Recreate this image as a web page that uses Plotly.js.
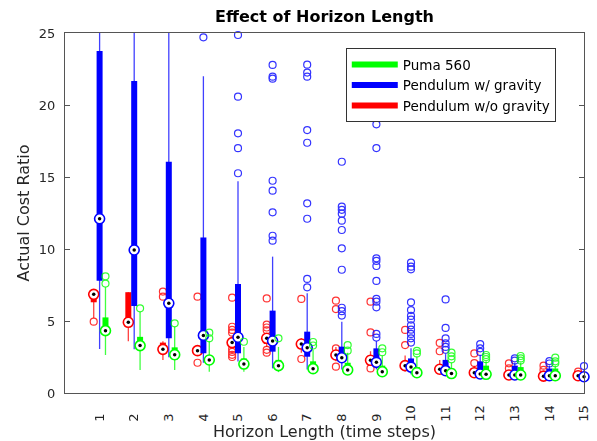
<!DOCTYPE html>
<html>
<head>
<meta charset="utf-8">
<script src="https://cdn.plot.ly/plotly-3.0.1.min.js"></script>
<style>html,body{margin:0;padding:0;background:#fff;}#chart{width:597px;height:441px;}</style>
</head>
<body>
<div id="chart"></div>
<script>
// Horizon lengths (x categories) and tick labels
const horizons = [1,2,3,4,5,6,7,8,9,10,11,12,13,14,15];
const tickLabels = ["1","2","3","4","5","6","7","8","9","10","11","12","13","14","15"];

// ---- Pendulum w/o gravity (red) ----
const redQ1  = [6.3, 4.6, 2.85, 2.8, 3.3, 3.4, 3.1, 2.45, 2.05, 1.7, 1.5, 1.3, 1.15, 1.1, 1.1];
const redMed = [6.85, 4.91, 3.03, 2.94, 3.5, 3.8, 3.4, 2.64, 2.27, 1.9, 1.65, 1.41, 1.25, 1.17, 1.2];
const redQ3  = [6.95, 7.0, 3.5, 3.1, 3.65, 4.0, 3.6, 2.9, 2.6, 2.2, 1.9, 1.7, 1.5, 1.4, 1.35];
const redLo  = [5.2, 3.6, 2.3, 2.6, 3.2, 3.2, 2.8, 2.2, 1.9, 1.5, 1.35, 1.2, 1.05, 1.0, 1.0];
const redHi  = [6.95, 7.0, 3.6, 3.3, 3.9, 4.1, 3.8, 3.2, 2.9, 2.6, 2.3, 1.9, 1.6, 1.5, 1.4];
const redOut = [[4.95], [], [7.04, 6.69], [6.69, 2.1], [6.62, 4.6, 4.38, 4.19, 3.05, 2.85, 2.65, 2.5],
  [6.57, 4.75, 4.55, 4.35, 3.0, 2.8], [6.53, 2.36], [6.41, 5.83, 3.1, 1.83], [6.34, 4.21, 1.71],
  [4.38, 3.33], [3.48, 2.9], [2.75, 2.08], [2.06, 1.71], [1.9, 1.6], [1.48]];

// ---- Pendulum w/ gravity (blue) ----
const blueQ1  = [7.8, 6.05, 3.8, 2.76, 2.76, 2.87, 2.52, 2.18, 1.9, 1.55, 1.4, 1.2, 1.15, 1.1, 1.05];
const blueMed = [12.1, 9.93, 6.23, 4.0, 3.87, 3.61, 3.15, 2.45, 2.13, 1.8, 1.55, 1.32, 1.25, 1.2, 1.13];
const blueQ3  = [23.75, 21.67, 16.06, 10.8, 7.57, 5.72, 4.26, 3.22, 3.1, 2.4, 2.3, 2.2, 1.9, 1.7, 1.45];
const blueLo  = [3.05, 3.03, 2.48, 2.1, 2.18, 1.71, 1.64, 1.64, 1.64, 1.3, 1.2, 1.1, 1.05, 1.0, 1.0];
const blueHi  = [32, 30, 28, 22.0, 14.7, 9.47, 6.92, 4.95, 3.6, 3.1, 2.7, 2.6, 2.1, 1.9, 1.6];
const blueOut = [[], [], [], [24.7], [24.86, 20.58, 18.03, 17.0, 15.26],
  [22.78, 21.97, 21.83, 14.74, 14.05, 12.55, 10.92, 10.58],
  [22.8, 22.25, 21.97, 18.26, 17.38, 13.17, 12.1, 7.92, 7.34],
  [16.06, 12.94, 12.72, 12.45, 11.97, 11.32, 10.05, 8.56, 5.92, 5.68, 5.38],
  [18.66, 17.01, 9.35, 9.17, 8.82, 7.78, 6.53, 6.34, 5.95, 4.1, 3.85],
  [9.05, 8.77, 8.59, 6.3, 5.76, 5.35, 5.1, 4.7, 4.4, 4.1, 3.8, 3.5],
  [6.5, 4.52, 3.8, 3.45, 3.2, 3.0], [3.4, 3.1, 2.85], [2.41, 2.25], [2.22, 2.05], [1.87]];

// ---- Puma 560 (green) ----
const greenQ1  = [4.2, 3.0, 2.3, 2.1, 1.8, 1.7, 1.55, 1.45, 1.4, 1.35, 1.3, 1.25, 1.15, 1.1, 1.05];
const greenMed = [4.33, 3.29, 2.66, 2.29, 2.01, 1.9, 1.69, 1.6, 1.48, 1.41, 1.35, 1.3, 1.25, 1.2, 1.15];
const greenQ3  = [5.25, 3.9, 3.17, 2.6, 2.4, 2.3, 2.2, 2.1, 1.9, 1.8, 1.7, 1.9, 1.8, 1.7, 1.6];
const greenLo  = [2.64, 1.6, 1.6, 1.48, 1.48, 1.45, 1.4, 1.35, 1.3, 1.25, 1.2, 1.15, 1.1, 1.05, 1.0];
const greenHi  = [7.35, 5.65, 4.6, 3.6, 3.2, 3.2, 3.0, 2.8, 2.6, 2.5, 2.1, 2.2, 2.1, 1.9, 1.8];
const greenOut = [[8.1, 7.6], [5.88], [4.84], [4.19, 3.8], [3.56], [3.8], [3.54, 3.3], [3.33, 2.94],
  [3.1, 2.83], [2.92, 2.75], [2.8, 2.55, 2.34], [2.64, 2.5, 2.35], [2.57, 2.4, 2.25], [2.45, 2.2, 2.06], [2.2]];

function seriesTraces(name, color, off, q1, med, q3, lo, hi, outl, clip, rank) {
  const xs = horizons.map(h => h + off);
  const wx = [], wy = [], bx = [], by = [], ox = [], oy = [];
  xs.forEach((x, i) => {
    wx.push(x, x, null); wy.push(lo[i], hi[i], null);
    bx.push(x, x, null); by.push(q1[i], q3[i], null);
    outl[i].forEach(v => { ox.push(x); oy.push(v); });
  });
  return [
    {type:'scatter', mode:'lines', x:wx, y:wy, line:{color:color, width:1.3}, opacity:0.75,
     showlegend:false, hoverinfo:'skip'},
    {type:'scatter', mode:'lines', x:bx, y:by, line:{color:color, width:6}, name:name,
     showlegend:true, legendrank:rank},
    {type:'scatter', mode:'markers', x:ox, y:oy, cliponaxis:clip,
     marker:{symbol:'circle-open', size:7, color:color, line:{width:1.2}}, opacity:0.8,
     showlegend:false},
    {type:'scatter', mode:'markers', x:xs, y:med, cliponaxis:clip,
     marker:{symbol:'circle', size:10, color:'#ffffff', line:{color:color, width:1.6}}, showlegend:false},
    {type:'scatter', mode:'markers', x:xs, y:med, cliponaxis:clip,
     marker:{symbol:'circle', size:3.5, color:'#000000'}, showlegend:false}
  ];
}

const traces = [].concat(
  seriesTraces('Pendulum w/o gravity', '#ff0000', -0.17, redQ1, redMed, redQ3, redLo, redHi, redOut, false, 3),
  seriesTraces('Pendulum w/ gravity', '#0000ff', 0, blueQ1, blueMed, blueQ3, blueLo, blueHi, blueOut, false, 2),
  seriesTraces('Puma 560', '#00ff00', 0.17, greenQ1, greenMed, greenQ3, greenLo, greenHi, greenOut, true, 1)
);

// rotated labels sit flush at their bottom end, as in the reference
const paddedTicks = tickLabels.map(t => t.length < 2 ? t + '\u2007' : t);

const axisFont = {family:'DejaVu Sans, sans-serif', size:13, color:'#262626'};
const layout = {
  width:597, height:441,
  margin:{l:65, r:13, t:33, b:48},
  paper_bgcolor:'#ffffff', plot_bgcolor:'#ffffff',
  font:{family:'DejaVu Sans, sans-serif', size:13, color:'#262626'},
  title:{text:'<b>Effect of Horizon Length</b>', font:{family:'DejaVu Sans, sans-serif', size:16, color:'#000'},
         x:0.5, xref:'paper', xanchor:'center', y:0.962, yanchor:'middle', yref:'container'},
  xaxis:{range:[0,15], tickvals:horizons, ticktext:paddedTicks, tickangle:-90, ticks:'',
         showgrid:false, zeroline:false, showline:true, linecolor:'#555', linewidth:1, mirror:true,
         tickfont:axisFont, ticklabelstandoff:6,
         title:{text:'Horizon Length (time steps)', font:{family:'DejaVu Sans, sans-serif', size:16, color:'#262626'}, standoff:2}},
  yaxis:{range:[0,25], tickvals:[0,5,10,15,20,25], ticks:'inside', ticklen:5, tickcolor:'#555',
         showgrid:false, zeroline:false, showline:true, linecolor:'#555', linewidth:1, mirror:'ticks',
         tickfont:axisFont, ticklabelstandoff:6,
         title:{text:'Actual Cost Ratio', font:{family:'DejaVu Sans, sans-serif', size:16, color:'#262626'}, standoff:5}},
  legend:{x:0.541, y:0.958, xanchor:'left', yanchor:'top', bgcolor:'#ffffff', bordercolor:'#333',
          borderwidth:1, itemwidth:46, font:{family:'DejaVu Sans, sans-serif', size:13.5, color:'#000'}, tracegroupgap:0},
  showlegend:true
};

Plotly.newPlot('chart', traces, layout, {staticPlot:true, displayModeBar:false});
</script>
</body>
</html>
